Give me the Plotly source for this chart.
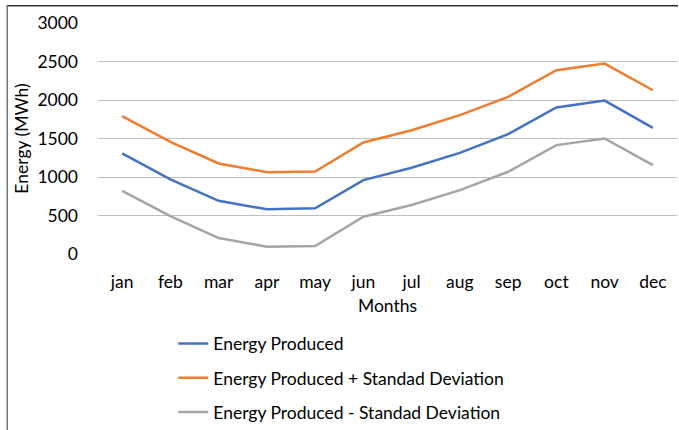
import plotly.graph_objects as go

months = ["jan", "feb", "mar", "apr", "may", "jun", "jul", "aug", "sep", "oct", "nov", "dec"]
energy = [1306, 970, 691, 580, 593, 960, 1120, 1314, 1556, 1903, 1993, 1638]
energy_plus = [1790, 1456, 1176, 1063, 1072, 1449, 1608, 1803, 2040, 2386, 2473, 2127]
energy_minus = [821, 493, 207, 95, 104, 484, 636, 830, 1068, 1414, 1500, 1154]

FONT = "Lato, Calibri, Liberation Sans, sans-serif"
FS = 17.5

fig = go.Figure()
fig.add_trace(go.Scatter(x=months, y=energy, mode="lines", name="Energy Produced", legendgroup="a",
                         line=dict(color="#4472C4", width=2.5)))
fig.add_trace(go.Scatter(x=months, y=energy_plus, mode="lines", name="Energy Produced + Standad Deviation",
                         legendgroup="b", line=dict(color="#ED7D31", width=2.5)))
fig.add_trace(go.Scatter(x=months, y=energy_minus, mode="lines", name="Energy Produced - Standad Deviation",
                         legendgroup="c", line=dict(color="#A5A5A5", width=2.5)))

PH = 231.0
PW = 579.0
def py(px):
    return 1 + (23 - px) / PH
def pxf(px):
    return (px - 98) / PW

fig.update_layout(
    width=679, height=430,
    margin=dict(l=98, r=2, t=23, b=176, autoexpand=False),
    paper_bgcolor="white", plot_bgcolor="white",
    font=dict(family=FONT, size=FS, color="#000000"),
    showlegend=True,
    legend=dict(orientation="v", x=0.13, xanchor="left", y=-0.31, yanchor="top",
                font=dict(family=FONT, size=FS, color="#000000"),
                tracegroupgap=8.5, bgcolor="rgba(0,0,0,0)"),
    xaxis=dict(range=[-0.5, 11.5], showgrid=False, showline=False, ticks="", zeroline=False,
               automargin=False, ticklabelstandoff=15,
               title=dict(text="Months", standoff=9, font=dict(size=FS)),
               tickfont=dict(size=FS)),
    yaxis=dict(range=[0, 3000], dtick=500, showgrid=True, gridcolor="#BFBFBF", gridwidth=1,
               zeroline=False, showline=False, ticks="", automargin=False, ticklabelstandoff=19,
               title=dict(text="Energy (MWh)", standoff=4, font=dict(size=FS)),
               tickfont=dict(size=FS)),
    shapes=[
        dict(type="rect", xref="paper", yref="paper", x0=pxf(6.5), x1=pxf(678), y0=py(6.5), y1=py(5),
             line=dict(width=0), fillcolor="#333333", layer="above"),
        dict(type="rect", xref="paper", yref="paper", x0=pxf(6.5), x1=pxf(8), y0=py(430), y1=py(5),
             line=dict(width=0), fillcolor="#777777", layer="above"),
    ],
)

fig.write_html("out.html", config={"displayModeBar": False},
               post_script="document.body.style.margin='0';")
